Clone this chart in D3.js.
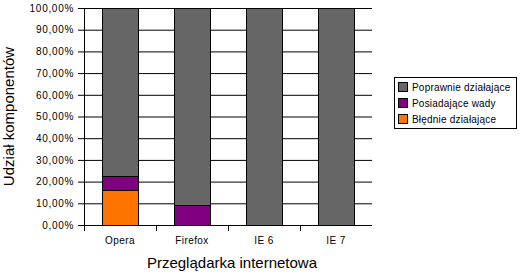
<!DOCTYPE html>
<html>
<head>
<meta charset="utf-8">
<script src="https://cdn.jsdelivr.net/npm/d3@7"></script>
<style>
  body { margin: 0; background: #fff; }
  svg { display: block; font-family: Arial, "Liberation Sans", sans-serif; }
</style>
</head>
<body>
<script>
// data
let browsers = ["Opera", "Firefox", "IE 6", "IE 7"];
let seriesNames = ["Błędnie działające", "Posiadające wady", "Poprawnie działające"];
let bledne = [16.0, 0, 0, 0];
let wady = [6.5, 9.4, 0, 0];
let poprawne = [77.5, 90.6, 100, 100];
let yTicks = [0, 10, 20, 30, 40, 50, 60, 70, 80, 90, 100];
let colors = ["#ff7300", "#800080", "#666666"];

let width = 288, height = 217;
let margins = { left: 84, top: 8 };
let svg = d3.select("body").append("svg")
  .attr("width", 523)
  .attr("height", 277);

let rows = browsers.map((b, i) => ({ name: b, s0: bledne[i], s1: wady[i], s2: poprawne[i] }));

let xScale = d3.scaleBand()
  .domain(browsers)
  .range([0, width])
  .paddingInner(0.5)
  .paddingOuter(0.25);
let yScale = d3.scaleLinear()
  .domain([0, 100])
  .range([height, 0]);
let colorScale = d3.scaleOrdinal()
  .domain(["s0", "s1", "s2"])
  .range(colors);

let container = svg.append("g")
  .attr("transform", `translate(${margins.left}, ${margins.top})`);

// gridlines
let grid = container.append("g")
  .call(d3.axisLeft(yScale).tickValues(yTicks).tickSize(-width).tickFormat(""));
grid.select(".domain").remove();
grid.selectAll("line").attr("stroke", "#000");

// stacked bars
let stacked = d3.stack().keys(["s0", "s1", "s2"])(rows);
container.selectAll("g.series")
  .data(stacked)
  .join("g")
  .classed("series", true)
  .attr("fill", d => colorScale(d.key))
  .selectAll("rect")
  .data(d => d.filter(p => p[1] - p[0] > 0))
  .join("rect")
  .attr("x", d => Math.round(xScale(d.data.name)) + 0.5)
  .attr("y", d => Math.round(yScale(d[1])) + 0.5)
  .attr("width", xScale.bandwidth())
  .attr("height", d => Math.round(yScale(d[0])) - Math.round(yScale(d[1])))
  .attr("stroke", "#000")
  .attr("stroke-width", 1);

// y axis
let yAxisG = container.append("g")
  .call(d3.axisLeft(yScale).tickValues(yTicks).tickSize(6).tickPadding(4)
    .tickFormat(d => d.toFixed(2).replace(".", ",") + "%"));
yAxisG.select(".domain").attr("stroke", "#000");
yAxisG.selectAll("text")
  .attr("font-size", 10)
  .attr("letter-spacing", 0.7)
  .attr("fill", "#000");

// x axis
let xAxisG = container.append("g")
  .attr("transform", `translate(0, ${height})`)
  .call(d3.axisBottom(xScale).tickSize(0).tickPadding(12));
xAxisG.select(".domain").attr("d", `M0.5,0.5H${width}`).attr("stroke", "#000");
xAxisG.selectAll("text")
  .attr("font-size", 10)
  .attr("letter-spacing", 0.4)
  .attr("fill", "#000");
// ticks between categories
xAxisG.selectAll("line.sep")
  .data(d3.range(browsers.length))
  .join("line")
  .classed("sep", true)
  .attr("x1", i => Math.round(xScale(browsers[i]) - xScale.step() * 0.25) + 0.5)
  .attr("x2", i => Math.round(xScale(browsers[i]) - xScale.step() * 0.25) + 0.5)
  .attr("y1", 0)
  .attr("y2", 6)
  .attr("stroke", "#000");

// axis titles
svg.append("text")
  .attr("x", margins.left + width / 2 + 4)
  .attr("y", 268)
  .attr("text-anchor", "middle")
  .attr("font-size", 15)
  .text("Przeglądarka internetowa");
svg.append("text")
  .attr("transform", `translate(14, ${margins.top + height / 2}) rotate(-90)`)
  .attr("text-anchor", "middle")
  .attr("font-size", 15)
  .text("Udział komponentów");

// legend
let legend = svg.append("g")
  .attr("transform", "translate(394, 77)");
legend.append("rect")
  .attr("x", 0.5).attr("y", 0.5)
  .attr("width", 122).attr("height", 51)
  .attr("fill", "#fff")
  .attr("stroke", "#000");
let legendOrder = ["s2", "s1", "s0"];
let items = legend.selectAll("g.item")
  .data(legendOrder)
  .join("g")
  .classed("item", true)
  .attr("transform", (d, i) => `translate(4, ${5 + i * 16})`);
items.append("rect")
  .attr("x", 0.5).attr("y", 0.5)
  .attr("width", 9).attr("height", 9)
  .attr("fill", d => colorScale(d))
  .attr("stroke", "#000");
items.append("text")
  .attr("x", 14)
  .attr("y", 9)
  .attr("font-size", 10)
  .attr("letter-spacing", 0.2)
  .text(d => seriesNames[["s0", "s1", "s2"].indexOf(d)]);
</script>
</body>
</html>
